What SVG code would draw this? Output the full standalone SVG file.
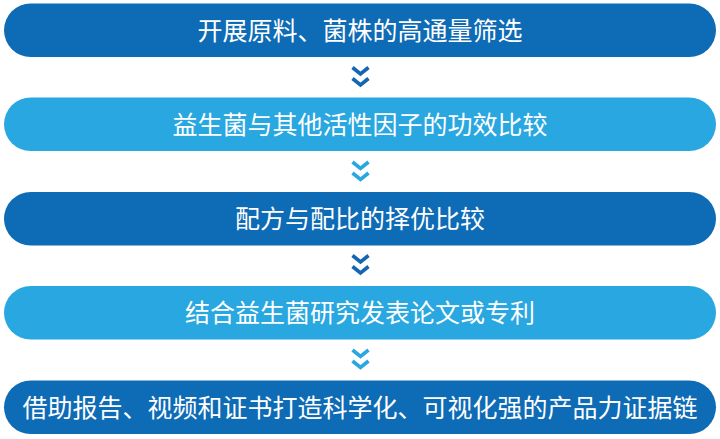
<svg xmlns="http://www.w3.org/2000/svg" width="720" height="439" viewBox="0 0 720 439">
<style>
.dark{fill:#0e6bb5}
.light{fill:#29a7e1}
.t{fill:#ffffff;font-family:"Noto Sans CJK SC","Noto Sans",sans-serif;font-size:25px;text-anchor:middle}
.chev{fill:none;stroke-width:3.6;stroke-linejoin:miter;stroke-linecap:butt}
.cd{stroke:#1466b2}
.cl{stroke:#2aa7e1}
</style>
<rect width="720" height="439" fill="#ffffff"/>
<g id="node1">
<rect class="dark" x="4" y="3.5" width="712" height="53.5" rx="26.75"/>
<text class="t" x="360" y="39.5">开展原料、菌株的高通量筛选</text>
</g>
<g id="node2">
<rect class="light" x="4" y="97.5" width="712" height="53.5" rx="26.75"/>
<text class="t" x="360" y="133.5">益生菌与其他活性因子的功效比较</text>
</g>
<g id="node3">
<rect class="dark" x="4" y="192" width="712" height="53.5" rx="26.75"/>
<text class="t" x="360" y="228">配方与配比的择优比较</text>
</g>
<g id="node4">
<rect class="light" x="4" y="286" width="712" height="53.5" rx="26.75"/>
<text class="t" x="360" y="322">结合益生菌研究发表论文或专利</text>
</g>
<g id="node5">
<rect class="dark" x="4" y="380.5" width="712" height="53.5" rx="26.75"/>
<text class="t" x="360" y="416.5">借助报告、视频和证书打造科学化、可视化强的产品力证据链</text>
</g>
<g id="connectors">
<g transform="translate(0,66)"><polyline class="chev cd" points="352.5,1.5 360.5,8 368.5,1.5"/><polyline class="chev cd" points="352.5,12.5 360.5,19 368.5,12.5"/></g>
<g transform="translate(0,160.5)"><polyline class="chev cl" points="352.5,1.5 360.5,8 368.5,1.5"/><polyline class="chev cl" points="352.5,12.5 360.5,19 368.5,12.5"/></g>
<g transform="translate(0,254)"><polyline class="chev cd" points="352.5,1.5 360.5,8 368.5,1.5"/><polyline class="chev cd" points="352.5,12.5 360.5,19 368.5,12.5"/></g>
<g transform="translate(0,348.5)"><polyline class="chev cl" points="352.5,1.5 360.5,8 368.5,1.5"/><polyline class="chev cl" points="352.5,12.5 360.5,19 368.5,12.5"/></g>
</g>
</svg>
